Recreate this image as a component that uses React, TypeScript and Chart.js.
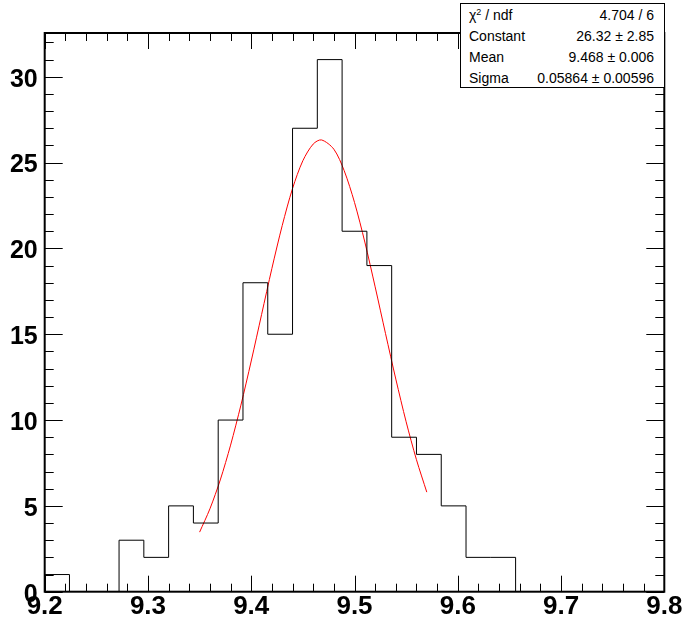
import React, { useEffect, useRef } from 'react';
import { Chart, registerables } from 'chart.js';

Chart.register(...registerables);

// Histogram: 25 bins of width 0.024 starting at 9.2
const binLow = 9.2;
const binWidth = 0.024;
const binCounts = [1, 0, 0, 3, 2, 5, 4, 10, 18, 15, 27, 31, 21, 19, 9, 8, 5, 2, 2, 0, 0, 0, 0, 0, 0];

// Gaussian fit curve
const fitX = [9.35, 9.36, 9.37, 9.38, 9.39, 9.40, 9.41, 9.42, 9.43, 9.44, 9.45, 9.46, 9.468, 9.48, 9.49, 9.50, 9.51, 9.52, 9.53, 9.54, 9.55, 9.56, 9.57];
const fitY = [3.47, 4.83, 6.51, 8.54, 10.87, 13.44, 16.14, 18.83, 21.33, 23.49, 25.11, 26.08, 26.32, 25.78, 24.53, 22.68, 20.37, 17.76, 15.05, 12.39, 9.90, 7.69, 5.80];

const xTickValues = [9.2, 9.3, 9.4, 9.5, 9.6, 9.7, 9.8];
const xTickLabels = ['9.2', '9.3', '9.4', '9.5', '9.6', '9.7', '9.8'];
const yTickValues = [0, 5, 10, 15, 20, 25, 30];
const yTickLabels = ['0', '5', '10', '15', '20', '25', '30'];

const statsNames = ['ndf', 'Constant', 'Mean', 'Sigma'];
const statsValues = ['4.704 / 6', '26.32 \u00b1 2.85', '9.468 \u00b1 0.006', '0.05864 \u00b1 0.00596'];

const FONT = "'Liberation Sans', Arial, Helvetica, sans-serif";

const framePlugin = {
  id: 'rootFrame',
  afterDatasetsDraw(chart: any) {
    const { ctx, chartArea: a, scales } = chart;
    const x = scales.x;
    const y = scales.y;
    ctx.save();
    ctx.strokeStyle = '#000';
    ctx.lineWidth = 1;
    ctx.beginPath();
    for (let k = 0; k <= 30; k++) {
      const v = 9.2 + k * 0.02;
      const px = Math.round(x.getPixelForValue(v)) + 0.5;
      const len = k % 5 === 0 ? 16 : 8;
      ctx.moveTo(px, a.bottom);
      ctx.lineTo(px, a.bottom - len);
      ctx.moveTo(px, a.top);
      ctx.lineTo(px, a.top + len);
    }
    for (let k = 0; k <= 32; k++) {
      const py = Math.round(y.getPixelForValue(k)) + 0.5;
      const len = k % 5 === 0 ? 18 : 9;
      ctx.moveTo(a.left, py);
      ctx.lineTo(a.left + len, py);
      ctx.moveTo(a.right, py);
      ctx.lineTo(a.right - len, py);
    }
    ctx.stroke();
    ctx.lineWidth = 2;
    ctx.strokeRect(a.left, a.top, a.right - a.left, a.bottom - a.top);
    ctx.restore();
  },
};

export default function App() {
  const canvasRef = useRef<HTMLCanvasElement | null>(null);

  useEffect(() => {
    const canvas = canvasRef.current;
    if (!canvas) return;

    const histPoints: { x: number; y: number }[] = [{ x: binLow, y: 0 }];
    binCounts.forEach((c, i) => histPoints.push({ x: binLow + i * binWidth, y: c }));
    histPoints.push({ x: binLow + binCounts.length * binWidth, y: 0 });

    const fitPoints = fitX.map((xv, i) => ({ x: xv, y: fitY[i] }));

    const chart = new Chart(canvas, {
      type: 'line',
      data: {
        datasets: [
          {
            label: 'hist',
            data: histPoints,
            stepped: true,
            borderColor: '#000',
            borderWidth: 1,
            pointRadius: 0,
            fill: false,
          },
          {
            label: 'fit',
            data: fitPoints,
            borderColor: '#ff0000',
            borderWidth: 1,
            pointRadius: 0,
            tension: 0.3,
            fill: false,
          },
        ],
      },
      options: {
        responsive: false,
        animation: false,
        events: [],
        layout: { padding: { top: 33, right: 18.7, left: 0, bottom: 0 } },
        plugins: {
          legend: { display: false },
          tooltip: { enabled: false },
        },
        scales: {
          x: {
            type: 'linear',
            min: 9.2,
            max: 9.8,
            grid: { display: false, drawTicks: false },
            border: { display: false },
            afterBuildTicks: (s: any) => {
              s.ticks = xTickValues.map((v) => ({ value: v }));
            },
            afterFit: (s: any) => {
              s.height = 34.3;
            },
            ticks: {
              autoSkip: false,
              maxRotation: 0,
              padding: 0,
              color: '#000',
              font: { family: FONT, size: 26, weight: 'bold' },
              callback: (_v: any, i: number) => xTickLabels[i],
            },
          },
          y: {
            type: 'linear',
            min: 0,
            max: 32.55,
            grid: { display: false, drawTicks: false },
            border: { display: false },
            afterBuildTicks: (s: any) => {
              s.ticks = yTickValues.map((v) => ({ value: v }));
            },
            afterFit: (s: any) => {
              s.width = 44.7;
            },
            ticks: {
              autoSkip: false,
              padding: 7,
              labelOffset: 3,
              color: '#000',
              font: { family: FONT, size: 25, weight: 'bold' },
              callback: (_v: any, i: number) => yTickLabels[i],
            },
          },
        },
      },
      plugins: [framePlugin],
    } as any);

    return () => chart.destroy();
  }, []);

  const rowStyle: React.CSSProperties = {
    display: 'flex',
    justifyContent: 'space-between',
    height: 21,
    lineHeight: '21px',
    padding: '0 10px 0 8px',
    whiteSpace: 'nowrap',
  };

  return (
    <div style={{ position: 'absolute', left: 0, top: 0, width: 683, height: 626, background: '#fff', overflow: 'hidden' }}>
      <canvas ref={canvasRef} width={683} height={626} style={{ display: 'block' }} />
      <div
        style={{
          position: 'absolute',
          left: 460,
          top: 3,
          width: 205,
          height: 85,
          boxSizing: 'border-box',
          border: '1px solid #000',
          background: '#fff',
          fontFamily: FONT,
          fontSize: 14,
          color: '#000',
          paddingTop: 1,
        }}
      >
        {statsNames.map((name, i) => (
          <div key={i} style={rowStyle}>
            <span>
              {i === 0 ? (
                <>
                  {'\u03c7'}
                  <sup style={{ fontSize: 9, verticalAlign: 'top', lineHeight: '14px' }}>2</sup>
                  {' / ' + name}
                </>
              ) : (
                name
              )}
            </span>
            <span>{statsValues[i]}</span>
          </div>
        ))}
      </div>
    </div>
  );
}
